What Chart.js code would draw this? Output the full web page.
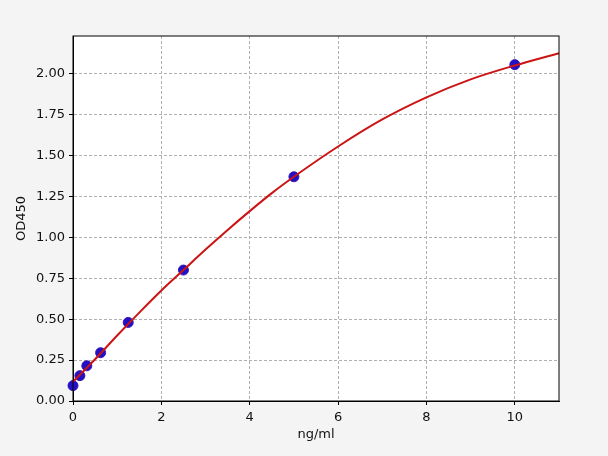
<!DOCTYPE html>
<html>
<head>
<meta charset="utf-8">
<script src="https://cdn.jsdelivr.net/npm/chart.js@4.4.1/dist/chart.umd.min.js"></script>
<style>
  html, body { margin: 0; padding: 0; background: #f4f4f4; }
  #wrap { width: 608px; height: 456px; }
</style>
</head>
<body>
<div id="wrap"><canvas id="odChart"></canvas></div>
<script>
// standard points (concentration, OD)
const stdConc = [0, 0.156, 0.3125, 0.625, 1.25, 2.5, 5, 10];
const stdOD = [0.094, 0.155, 0.215, 0.295, 0.48, 0.80, 1.37, 2.055];

// fitted curve
const curveConc = [0, 0.5, 1, 1.5, 2, 2.5, 3, 3.5, 4, 4.5, 5, 6, 7, 8, 9, 10, 11];
const curveOD = [0.118, 0.255, 0.40, 0.54, 0.675, 0.80, 0.925, 1.045, 1.16, 1.27, 1.37, 1.555, 1.72, 1.855, 1.965, 2.05, 2.125];

const xTicks = [0, 2, 4, 6, 8, 10];
const yTicks = [0, 0.25, 0.5, 0.75, 1.0, 1.25, 1.5, 1.75, 2.0];

// paints the white plot area + black frame
const frame = {
  id: 'frame',
  beforeDraw(chart) {
    const c = chart.ctx, a = chart.chartArea;
    c.save();
    c.fillStyle = '#f4f4f4';
    c.fillRect(0, 0, chart.width, chart.height);
    c.fillStyle = '#ffffff';
    c.fillRect(a.left, a.top, a.right - a.left, a.bottom - a.top);
    c.restore();
  },
  afterDraw(chart) {
    const c = chart.ctx, a = chart.chartArea;
    c.save();
    c.strokeStyle = '#000';
    c.lineWidth = 1;
    c.strokeRect(a.left, a.top, a.right - a.left, a.bottom - a.top);
    c.restore();
  }
};

const gridStyle = {
  color: '#b0b0b0',
  tickColor: '#000',
  tickBorderDash: [],
  tickLength: 4,
  lineWidth: 1
};
const borderStyle = { color: '#000', width: 1, dash: [3, 2] };
const font13 = { family: 'DejaVu Sans', size: 13 };

new Chart(document.getElementById('odChart'), {
  type: 'scatter',
  data: {
    datasets: [
      {
        label: 'curve',
        type: 'line',
        data: curveConc.map((x, i) => ({ x: x, y: curveOD[i] })),
        borderColor: '#cc1414',
        borderWidth: 2,
        pointRadius: 0,
        cubicInterpolationMode: 'monotone',
        fill: false,
        order: 1
      },
      {
        label: 'standards',
        data: stdConc.map((x, i) => ({ x: x, y: stdOD[i] })),
        backgroundColor: '#2010c8',
        borderColor: '#3a14b0',
        borderWidth: 1,
        pointRadius: 5,
        order: 2
      }
    ]
  },
  options: {
    responsive: true,
    maintainAspectRatio: false,
    animation: false,
    clip: false,
    layout: { padding: { left: 12, top: 36, right: 49, bottom: 14 } },
    plugins: { legend: { display: false }, tooltip: { enabled: false } },
    scales: {
      x: {
        type: 'linear',
        min: 0,
        max: 11,
        border: borderStyle,
        grid: gridStyle,
        afterBuildTicks: axis => { axis.ticks = xTicks.map(v => ({ value: v })); },
        afterFit: axis => { axis.height = 41; },
        ticks: { color: '#111', font: font13, padding: 5 },
        title: { display: true, text: 'ng/ml', color: '#111', font: font13, padding: 0 }
      },
      y: {
        type: 'linear',
        min: 0,
        max: 2.23,
        border: borderStyle,
        grid: gridStyle,
        afterBuildTicks: axis => { axis.ticks = yTicks.map(v => ({ value: v })); },
        afterFit: axis => { axis.width = 61; },
        ticks: {
          color: '#111',
          font: font13,
          padding: 4,
          callback: v => Number(v).toFixed(2)
        },
        title: { display: true, text: 'OD450', color: '#111', font: font13, padding: 2 }
      }
    }
  },
  plugins: [frame]
});
</script>
</body>
</html>
